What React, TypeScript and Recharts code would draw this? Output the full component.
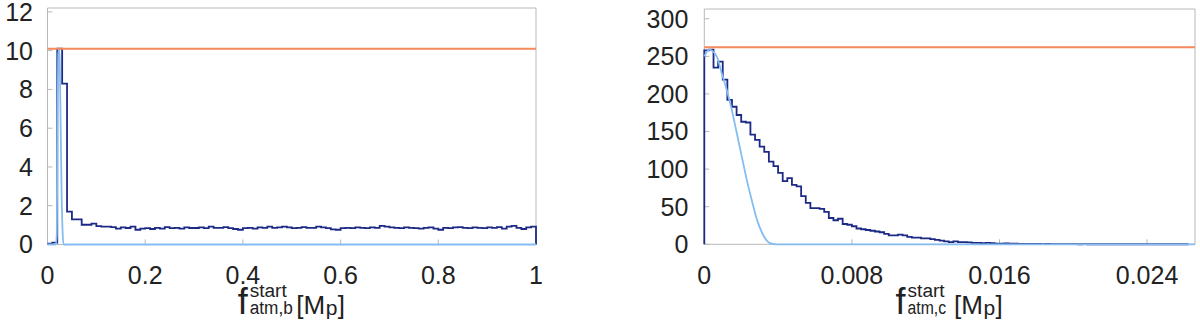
import React from 'react';
import { LineChart, Line, XAxis, YAxis, ReferenceLine } from 'recharts';

// ---------- Panel b (left) ----------
const xTicksB = [0, 0.2, 0.4, 0.6, 0.8, 1];
const yTicksB = [0, 2, 4, 6, 8, 10, 12];
const binWidthB = 0.01;
const histB = [
  0.05, 0.1, 10.1, 8.3, 1.7, 1.3, 1.3, 1.02, 1.02, 1.08,
  0.95, 0.92, 0.92, 0.9, 0.82, 0.88, 0.85, 0.92, 0.76, 0.82,
  0.84, 0.8, 0.86, 0.82, 0.9, 0.84, 0.86, 0.82, 0.88, 0.85,
  0.85, 0.88, 0.84, 0.92, 0.86, 0.86, 0.9, 0.84, 0.8, 0.76,
  0.84, 0.86, 0.82, 0.88, 0.86, 0.92, 0.86, 0.88, 0.92, 0.88,
  0.84, 0.86, 0.9, 0.86, 0.86, 0.92, 0.88, 0.84, 0.78, 0.76,
  0.84, 0.86, 0.84, 0.88, 0.86, 0.84, 0.88, 0.86, 0.96, 0.92,
  0.88, 0.86, 0.84, 0.88, 0.86, 0.84, 0.82, 0.86, 0.88, 0.82,
  0.76, 0.86, 0.84, 0.88, 0.9, 0.86, 0.84, 0.88, 0.86, 0.84,
  0.88, 0.86, 0.9, 0.82, 0.92, 0.96, 0.86, 0.8, 0.88, 0.92,
];
const modelBx = [0, 0.017, 0.019, 0.0205, 0.022, 0.0235, 0.025, 0.027, 0.029, 0.031, 0.033, 1];
const modelBy = [0, 0, 0.5, 6, 9.8, 10.1, 9.5, 6, 2.5, 0.6, 0, 0];
const refB = 10.1;

// ---------- Panel c (right) ----------
const xTicksC = [0, 0.008, 0.016, 0.024];
const yTicksC = [0, 50, 100, 150, 200, 250, 300];
const binWidthC = 0.00025;
const histC = [
  258, 259, 235, 243, 219, 192, 183, 172, 163, 162,
  146, 139, 130, 123, 110, 104, 95, 84, 88, 79,
  77, 64, 55, 48, 48, 47, 43, 35, 32, 34,
  27, 26, 24, 21, 20, 19, 18, 17, 16, 14,
  12, 12, 13, 12, 10, 9, 9, 8, 8, 7,
  6, 5, 4, 3, 4, 3, 3, 2.5, 2, 2,
  1.5, 2, 1.5, 1, 1, 1.2, 0.8, 0.8, 0.5, 0.6,
  0.5, 0.4, 0.5, 0.3, 0.4, 0.3, 0.3, 0.2, 0.3, 0.2,
  0.2, 0.1, 0.2, 0.1, 0.1, 0.1, 0.1, 0.05, 0.1, 0.05,
  0.05, 0.05, 0.05, 0.05, 0.05, 0.05, 0.05, 0.05, 0.05, 0.05,
  0.05, 0.05, 0.05, 0.05, 0.05, 0.05,
];
const modelCx = [0, 0.00027, 0.00067, 0.00094, 0.00121, 0.00149, 0.00176, 0.00203, 0.0023, 0.00257, 0.00284, 0.0032, 0.00356, 0.0039, 0.005, 0.0266];
const modelCy = [250, 259, 250, 228, 206, 179, 148, 117, 86, 59, 34, 12, 1.5, 0, 0, 0];
const refC = 262;

// ---------- build series ----------
const darkB = [
  ...histB.map((v, i) => ({ x: i * binWidthB, y: v })),
  { x: 1, y: 0 },
];
const lightB = modelBx.map((x, i) => ({ x, y: modelBy[i] }));
const darkC = [
  { x: 0, y: 0 },
  ...histC.map((v, i) => ({ x: i * binWidthC, y: v })),
];
const lightC = modelCx.map((x, i) => ({ x, y: modelCy[i] }));

const DARK = '#1c2a85';
const LIGHT = '#85bdf2';
const ORANGE = '#f4895c';
const AXIS = '#b8b8b8';
const TEXT = '#222';
const FONT = '"Liberation Sans", Arial, Helvetica, sans-serif';

const tickStyle = { fontSize: 25, fill: TEXT, fontFamily: FONT };

function Panel(props: {
  left: number;
  margin: { top: number; right: number; bottom: number; left: number };
  xDomain: [number, number];
  yDomain: [number, number];
  xTicks: number[];
  yTicks: number[];
  yTickMargin: number;
  dark: { x: number; y: number }[];
  light: { x: number; y: number }[];
  refY: number;
}) {
  const { left, margin, xDomain, yDomain, xTicks, yTicks, yTickMargin, dark, light, refY } = props;
  const extra: any = { zIndex: 700 };
  return (
    <div style={{ position: 'absolute', left, top: 0 }}>
      <LineChart width={560} height={322} margin={margin}>
        <XAxis
          xAxisId={0}
          type="number"
          dataKey="x"
          domain={xDomain}
          ticks={xTicks}
          interval={0}
          height={40}
          tickSize={-5}
          tickMargin={26.5}
          stroke={AXIS}
          tick={tickStyle}
        />
        <XAxis
          xAxisId="top"
          orientation="top"
          type="number"
          dataKey="x"
          domain={xDomain}
          ticks={xTicks}
          interval={0}
          height={1}
          tickSize={-5}
          stroke={AXIS}
          tick={false}
        />
        <YAxis
          yAxisId={0}
          type="number"
          domain={yDomain}
          ticks={yTicks}
          interval={0}
          width={40}
          tickSize={-5}
          tickMargin={yTickMargin}
          stroke={AXIS}
          tick={tickStyle}
        />
        <YAxis
          yAxisId="right"
          orientation="right"
          type="number"
          domain={yDomain}
          ticks={yTicks}
          interval={0}
          width={1}
          tickSize={-5}
          stroke={AXIS}
          tick={false}
        />
        <Line
          {...extra}
          data={dark}
          dataKey="y"
          type="stepAfter"
          stroke={DARK}
          strokeWidth={1.8}
          dot={false}
          isAnimationActive={false}
        />
        <Line
          {...extra}
          data={light}
          dataKey="y"
          type="monotone"
          stroke={LIGHT}
          strokeWidth={1.8}
          dot={false}
          isAnimationActive={false}
        />
        <ReferenceLine {...extra} y={refY} stroke={ORANGE} strokeWidth={2} />
      </LineChart>
    </div>
  );
}

function AxisTitle({ cx, sub, subLen }: { cx: number; sub: string; subLen: number }) {
  return (
    <g fontFamily={FONT} fill={TEXT}>
      <text x={cx - 54} y={313.5} fontSize={36}>f</text>
      <text x={cx - 42} y={297} fontSize={18} textLength={37} lengthAdjust="spacingAndGlyphs">start</text>
      <text x={cx - 42} y={313.5} fontSize={18} textLength={subLen} lengthAdjust="spacingAndGlyphs">{sub}</text>
      <text x={cx + 4.5} y={313.5} fontSize={26}>[M</text>
      <text x={cx + 34} y={314.5} fontSize={21}>p</text>
      <text x={cx + 46} y={313.5} fontSize={26}>]</text>
    </g>
  );
}

export default function App() {
  return (
    <div style={{ position: 'absolute', left: 0, top: 0, width: 1200, height: 322, background: '#fff', overflow: 'hidden' }}>
      <Panel
        left={0}
        margin={{ top: 7, right: 23, bottom: 37.5, left: 7.5 }}
        xDomain={[0, 1]}
        yDomain={[0, 12.2]}
        xTicks={xTicksB}
        yTicks={yTicksB}
        yTickMargin={19.5}
        dark={darkB}
        light={lightB}
        refY={refB}
      />
      <Panel
        left={640}
        margin={{ top: 8, right: 4, bottom: 37.7, left: 24.3 }}
        xDomain={[0, 0.0266]}
        yDomain={[0, 313]}
        xTicks={xTicksC}
        yTicks={yTicksC}
        yTickMargin={21}
        dark={darkC}
        light={lightC}
        refY={refC}
      />
      <svg width={1200} height={322} style={{ position: 'absolute', left: 0, top: 0, pointerEvents: 'none' }}>
        <AxisTitle cx={291.75} sub="atm,b" subLen={43} />
        <AxisTitle cx={949.6} sub="atm,c" subLen={38.5} />
      </svg>
    </div>
  );
}
